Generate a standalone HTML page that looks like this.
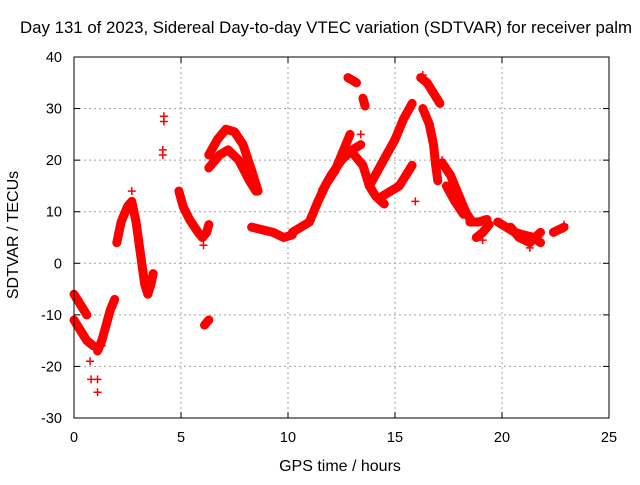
<!DOCTYPE html>
<html><head><meta charset="utf-8"><style>
body{margin:0;background:#fff;}
svg text{font-family:"Liberation Sans",sans-serif;fill:#000;}
</style></head><body>
<svg id="chart" width="640" height="480" viewBox="0 0 640 480" xmlns="http://www.w3.org/2000/svg">
<rect width="640" height="480" fill="#fff"/>
<text x="326" y="33" font-size="16.5" text-anchor="middle" textLength="612" lengthAdjust="spacingAndGlyphs">Day 131 of 2023, Sidereal Day-to-day VTEC variation (SDTVAR) for receiver palm</text>
<g id="grid"></g><g id="marks"></g><g id="axes"></g>
<text x="340" y="471" font-size="16" text-anchor="middle">GPS time / hours</text>
<text transform="translate(18,235) rotate(-90)" font-size="16" text-anchor="middle">SDTVAR / TECUs</text>
</svg>
<script>
const xTicks=[0,5,10,15,20,25];
const yTicks=[-30,-20,-10,0,10,20,30,40];
const tracks=[
[[0,-6],[0.3,-8],[0.6,-10]],
[[0,-11],[0.3,-13],[0.6,-15],[0.9,-16]],
[[1.1,-17],[1.3,-15],[1.5,-12],[1.7,-9],[1.9,-7]],
[[2.0,4],[2.2,8],[2.5,11],[2.7,12],[2.9,8],[3.1,2],[3.3,-4],[3.45,-6],[3.6,-4],[3.7,-2]],
[[4.9,14],[5.1,11],[5.4,8.5],[5.8,6],[6.0,5],[6.2,6],[6.3,7.5]],
[[6.1,-12],[6.3,-11]],
[[6.3,21],[6.7,24],[7.1,26],[7.5,25.5],[7.9,23],[8.3,18],[8.6,14]],
[[6.3,18.5],[6.8,21],[7.2,22],[7.7,20],[8.2,16],[8.5,14]],
[[8.3,7],[8.8,6.5],[9.3,6],[9.8,5],[10.2,5.5]],
[[10.2,6],[10.6,7],[11.0,8],[11.4,12],[11.8,15.5],[12.2,18],[12.6,22],[12.9,25]],
[[11.6,14],[12.0,17],[12.5,20],[13.0,22],[13.4,23]],
[[13.1,21],[13.5,19],[13.8,15],[14.1,13],[14.5,11.5]],
[[13.8,15],[14.2,18],[14.6,21],[15.0,24],[15.4,28],[15.8,31]],
[[14.4,13],[14.8,14],[15.2,15],[15.5,17],[15.8,19]],
[[12.8,36],[13.2,35]],
[[13.5,32],[13.6,30.5]],
[[16.2,36],[16.5,35],[16.8,33],[17.1,31]],
[[16.3,30],[16.6,27],[16.8,23],[16.9,19],[17.0,16]],
[[17.2,19.5],[17.6,17],[18.0,13],[18.3,10],[18.6,8]],
[[17.4,15],[17.8,12],[18.2,9.5]],
[[18.5,8],[18.9,8],[19.3,8.5]],
[[18.8,5],[19.1,6],[19.4,7.5]],
[[19.8,8],[20.2,7],[20.6,6],[21.0,5.5],[21.5,5],[21.8,4]],
[[20.4,7],[20.8,5],[21.3,4],[21.8,6]],
[[22.4,6],[22.9,7]]
];
const scatter=[[0.75,-19],[0.8,-22.5],[1.1,-22.5],[1.1,-25],[0.9,-16],[1.3,-16],[2.7,14],[4.2,28.5],[4.2,27.5],[4.15,22],[4.15,21],[6.05,3.5],[16.3,36.5],[17.2,20],[19.1,4.5],[21.3,3],[22.9,7.5],[13.4,25],[15.95,12]];
const X0=74,X1=609,Y0=418,Y1=57;
const sx=h=>X0+(h-0)/25*(X1-X0);
const sy=v=>Y0-(v+30)/70*(Y0-Y1);
const NS="http://www.w3.org/2000/svg";
function mk(t,a,p){const e=document.createElementNS(NS,t);for(const k in a)e.setAttribute(k,a[k]);p.appendChild(e);return e;}
const grid=document.getElementById('grid'),axes=document.getElementById('axes'),marks=document.getElementById('marks');
xTicks.forEach(t=>{const x=sx(t);
 if(t>0&&t<25){const g=mk('line',{x1:x,y1:Y1,x2:x,y2:Y0,stroke:'#a0a0a0','stroke-dasharray':'2,3'},grid);
 
 }
 mk('line',{x1:x,y1:Y0,x2:x,y2:Y0-6,stroke:'#000'},axes);mk('line',{x1:x,y1:Y1,x2:x,y2:Y1+6,stroke:'#000'},axes);
 const l=mk('text',{x:x,y:Y0+24,'font-size':14.5,'text-anchor':'middle'},axes);l.textContent=t;
 
 });
yTicks.forEach(t=>{const y=sy(t);
 if(t>-30&&t<40){const g=mk('line',{x1:X0,y1:y,x2:X1,y2:y,stroke:'#a0a0a0','stroke-dasharray':'2,3'},grid);
 
 }
 mk('line',{x1:X0,y1:y,x2:X0+6,y2:y,stroke:'#000'},axes);mk('line',{x1:X1,y1:y,x2:X1-6,y2:y,stroke:'#000'},axes);
 const l=mk('text',{x:X0-12,y:y+5,'font-size':14.5,'text-anchor':'end'},axes);l.textContent=t;
 
 });
const box=mk('rect',{x:X0,y:Y1,width:X1-X0,height:Y0-Y1,fill:'none',stroke:'#000'},axes);


function plus(h,v){const x=sx(h),y=sy(v);mk('path',{d:`M${x-4} ${y}H${x+4}M${x} ${y-4}V${y+4}`,stroke:'#f00','stroke-width':1.5},marks);}
tracks.forEach(tr=>{
 const p=mk('polyline',{points:tr.map(d=>sx(d[0])+','+sy(d[1])).join(' '),fill:'none',stroke:'#f00','stroke-width':9,'stroke-linejoin':'round','stroke-linecap':'round'},marks);
 
 
 tr.forEach(d=>plus(d[0],d[1]));});
scatter.forEach(d=>plus(d[0],d[1]));
</script>
</body></html>
